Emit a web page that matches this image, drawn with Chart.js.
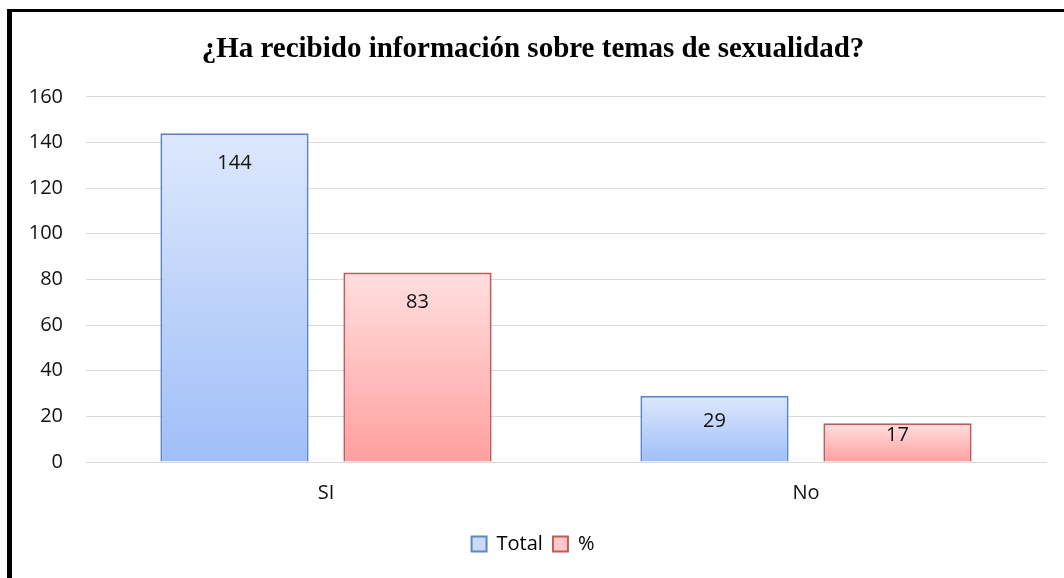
<!DOCTYPE html>
<html>
<head>
<meta charset="utf-8">
<script src="https://cdn.jsdelivr.net/npm/chart.js@4.4.1/dist/chart.umd.min.js"></script>
<style>
  body { margin: 0; background: #fff; overflow: hidden; }
  #frame { position: absolute; left: 7px; top: 9px; width: 2000px; height: 2000px;
           border-left: 5px solid #000; border-top: 3px solid #000; }
  #wrap { position: absolute; left: 0; top: 0; width: 1064px; height: 578px; }
</style>
</head>
<body>
<div id="frame"></div>
<div id="wrap"><canvas id="graph"></canvas></div>
<script>
var categories = ["SI", "No"];
var totalValues = [144, 29];
var pctValues = [83, 17];
var yTicks = [0, 20, 40, 60, 80, 100, 120, 140, 160];

var labelFont = "'Open Sans', 'Noto Sans', sans-serif";

// gradient per bar, light at top, darker at bottom
function barGradient(top, bottom) {
    return function (ctx) {
        var chart = ctx.chart;
        if (!chart.chartArea || ctx.dataIndex === undefined) return top;
        var y = chart.scales.y;
        var v = ctx.dataset.data[ctx.dataIndex];
        var y0 = y.getPixelForValue(v);
        var y1 = y.getPixelForValue(0);
        var g = chart.ctx.createLinearGradient(0, y0, 0, y1);
        g.addColorStop(0, top);
        g.addColorStop(1, bottom);
        return g;
    };
}

var valueLabels = {
    id: "valueLabels",
    afterDatasetsDraw: function (chart) {
        var c = chart.ctx;
        c.save();
        c.font = "20px " + labelFont;
        c.fillStyle = "#111";
        c.textAlign = "center";
        c.textBaseline = "middle";
        chart.data.datasets.forEach(function (ds, i) {
            var meta = chart.getDatasetMeta(i);
            meta.data.forEach(function (bar, j) {
                var h = bar.base - bar.y;
                var off = Math.min(30, h / 2 - 7);
                c.fillText(ds.data[j], bar.x, bar.y + off);
            });
        });
        c.restore();
    }
};

new Chart("graph", {
    type: "bar",
    data: {
        labels: categories,
        datasets: [{
            label: "Total",
            data: totalValues,
            backgroundColor: barGradient("#dde8fc", "#a0bef8"),
            borderColor: "#5b87c5",
            borderWidth: 2,
            categoryPercentage: 0.7625,
            barPercentage: 0.81
        }, {
            label: "%",
            data: pctValues,
            backgroundColor: barGradient("#ffdfdf", "#ff9f9f"),
            borderColor: "#c25a58",
            borderWidth: 2,
            categoryPercentage: 0.7625,
            barPercentage: 0.81
        }]
    },
    options: {
        responsive: true,
        maintainAspectRatio: false,
        animation: false,
        layout: { padding: { left: 20, right: 18, top: 0, bottom: 14 } },
        plugins: {
            title: {
                display: true,
                text: "¿Ha recibido información sobre temas de sexualidad?",
                color: "#000",
                font: { family: "'Liberation Serif', 'DejaVu Serif', serif", size: 29, weight: "bold" },
                padding: { top: 32, bottom: 30 }
            },
            legend: {
                position: "bottom",
                labels: {
                    color: "#111",
                    font: { family: labelFont, size: 20 },
                    boxWidth: 15,
                    boxHeight: 15,
                    padding: 10,
                    generateLabels: function () {
                        return [
                            { text: "Total", fillStyle: "#c9dafb", strokeStyle: "#5b87c5", lineWidth: 2, datasetIndex: 0 },
                            { text: "%", fillStyle: "#ffc9c9", strokeStyle: "#c25a58", lineWidth: 2, datasetIndex: 1 }
                        ];
                    }
                }
            },
            tooltip: { enabled: false }
        },
        scales: {
            x: {
                grid: { display: false, drawTicks: false },
                border: { color: "#d9d9d9", width: 1 },
                ticks: { color: "#111", font: { family: labelFont, size: 20 }, padding: 19 }
            },
            y: {
                min: 0,
                max: 160,
                afterFit: function (scale) { scale.width = 66; },
                afterBuildTicks: function (scale) {
                    scale.ticks = yTicks.map(function (v) { return { value: v }; });
                },
                grid: { color: "#d9d9d9", lineWidth: 1, drawTicks: false },
                border: { display: false },
                ticks: { color: "#111", font: { family: labelFont, size: 20 }, padding: 23 }
            }
        }
    },
    plugins: [valueLabels]
});
</script>
</body>
</html>
